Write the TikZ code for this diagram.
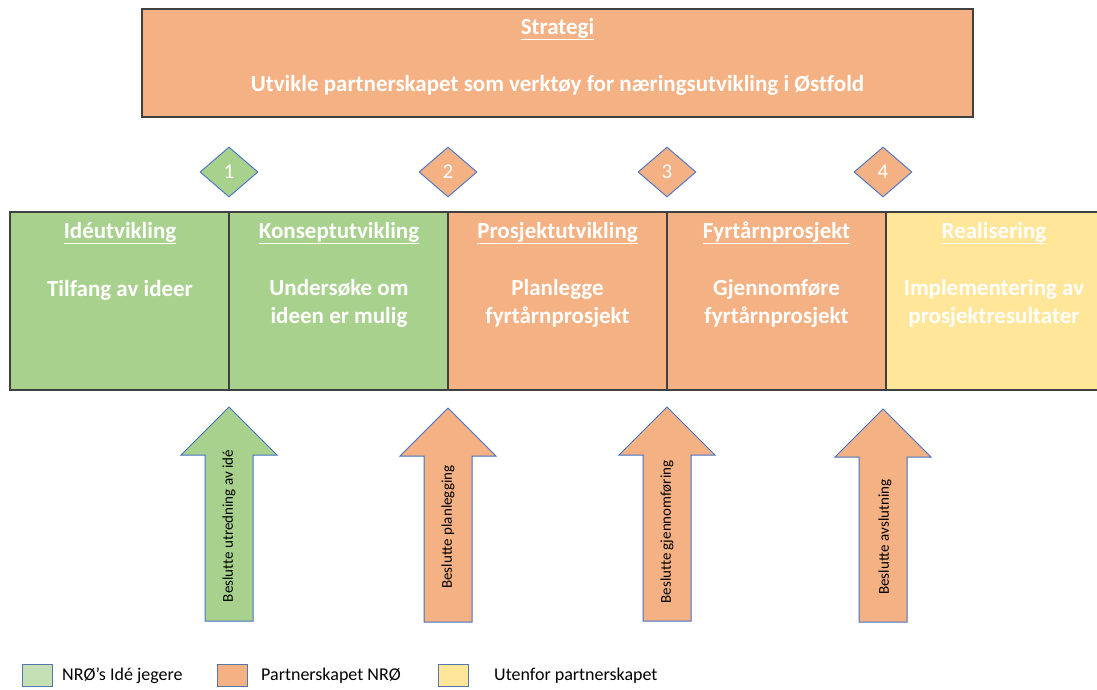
\documentclass[tikz,border=0pt]{standalone}
\usepackage{fontspec}
\setmainfont{Carlito}[Ligatures=NoCommon]
\usetikzlibrary{shapes.geometric}
\definecolor{grn}{HTML}{A9D18E}
\definecolor{org}{HTML}{F4B183}
\definecolor{yel}{HTML}{FFE699}
\definecolor{lgrn}{HTML}{C5E0B4}
\definecolor{edgec}{HTML}{404040}
\definecolor{blu}{HTML}{4472C4}
\tikzset{
  phase/.style={draw=edgec, line width=1.4pt, minimum height=178pt, inner sep=0pt},
  head/.style={text=white, font=\fontsize{23}{27}\selectfont\bfseries, inner sep=0pt},
  body/.style={text=white, font=\fontsize{23}{28}\selectfont\bfseries, align=center, inner sep=0pt},
  gate/.style={shape=diamond, draw=blu, line width=0.9pt, minimum width=58pt, minimum height=50pt, inner sep=0pt, text=white, font=\fontsize{21}{24}\selectfont},
  uparrow/.style={draw=blu, line width=1pt},
  arrtext/.style={rotate=90, font=\fontsize{15}{17}\selectfont, text=black, inner sep=0pt},
  legbox/.style={draw=blu!70!gray, line width=1pt, minimum width=30pt, minimum height=22pt, inner sep=0pt},
  legtext/.style={font=\fontsize{18}{21}\selectfont, anchor=west, inner sep=0pt}
}
\begin{document}
\begin{tikzpicture}[x=1pt,y=-1pt]
\useasboundingbox (0,0) rectangle (1097,689);
% strategy box
\node[draw=edgec, line width=1.4pt, fill=org, minimum width=831pt, minimum height=108pt, inner sep=0pt] (strat) at (557.5,63) {};
\node[head] (strath) at (557.5,29) {\underline{Strategi}};
\node[head] (stratb) at (557.5,85) {Utvikle partnerskapet som verktøy for næringsutvikling i Østfold};
% phase boxes
\node[phase, fill=grn, minimum width=219pt] (p1) at (119.5,301) {};
\node[phase, fill=grn, minimum width=219pt] (p2) at (338.5,301) {};
\node[phase, fill=org, minimum width=219pt] (p3) at (557.5,301) {};
\node[phase, fill=org, minimum width=219pt] (p4) at (776.5,301) {};
\node[phase, fill=yel, minimum width=225pt] (p5) at (998.5,301) {};
\node[head] (h1) at (120,233) {\underline{Idéutvikling}};
\node[head] (h2) at (339,233) {\underline{Konseptutvikling}};
\node[head] (h3) at (557.5,233) {\underline{Prosjektutvikling}};
\node[head] (h4) at (776.5,233) {\underline{Fyrtårnprosjekt}};
\node[head] (h5) at (994,233) {\underline{Realisering}};
\node[body] (b1) at (120,290) {Tilfang av ideer};
\node[body] (b2) at (339,303) {Undersøke om\\ideen er mulig};
\node[body] (b3) at (557.5,303) {Planlegge\\fyrtårnprosjekt};
\node[body] (b4) at (776.5,303) {Gjennomføre\\fyrtårnprosjekt};
\node[body] (b5) at (994,303) {Implementering av\\prosjektresultater};
% decision gates
\node[gate, fill=grn] (g1) at (229,172) {1};
\node[gate, fill=org] (g2) at (448,172) {2};
\node[gate, fill=org] (g3) at (667,172) {3};
\node[gate, fill=org] (g4) at (883,172) {4};
% arrows
\draw[uparrow, fill=grn] (229,407) -- (277,455) -- (253,455) -- (253,621) -- (205,621) -- (205,455) -- (181,455) -- cycle;
\draw[uparrow, fill=org] (448,408) -- (496,456) -- (472,456) -- (472,622) -- (424,622) -- (424,456) -- (400,456) -- cycle;
\draw[uparrow, fill=org] (667,407) -- (715,455) -- (691,455) -- (691,621) -- (643,621) -- (643,455) -- (619,455) -- cycle;
\draw[uparrow, fill=org] (883,409) -- (931,457) -- (907,457) -- (907,622) -- (859,622) -- (859,457) -- (835,457) -- cycle;
\node[arrtext] (a1) at (229,526) {Beslutte utredning av idé};
\node[arrtext] (a2) at (448,527) {Beslutte planlegging};
\node[arrtext] (a3) at (667,532) {Beslutte gjennomføring};
\node[arrtext] (a4) at (885,537) {Beslutte avslutning};
% legend
\node[legbox, fill=lgrn] (l1) at (37,675) {};
\node[legtext] (lt1) at (62,676) {NRØ’s Idé jegere};
\node[legbox, fill=org] (l2) at (232,675) {};
\node[legtext] (lt2) at (261,676) {Partnerskapet NRØ};
\node[legbox, fill=yel] (l3) at (453,675) {};
\node[legtext] (lt3) at (494,676) {Utenfor partnerskapet};
\end{tikzpicture}
\end{document}
